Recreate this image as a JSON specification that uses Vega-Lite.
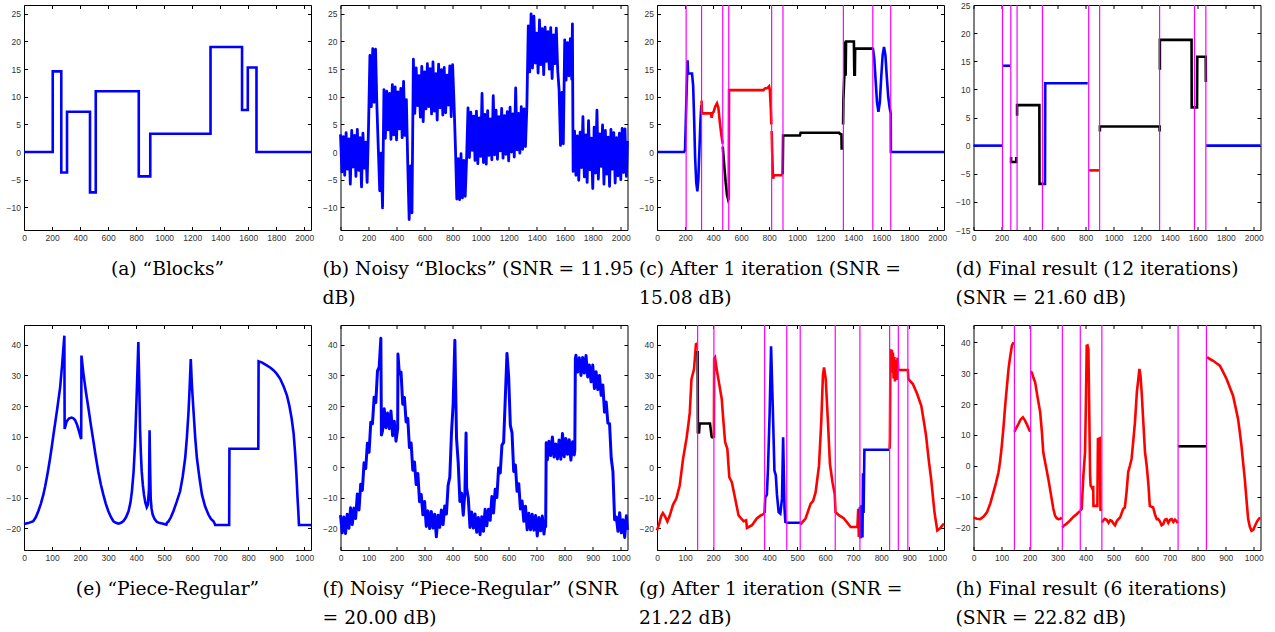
{
 "$schema": "https://vega.github.io/schema/vega-lite/v6.json",
 "padding": {"left": 5, "top": 0, "right": 0, "bottom": 0},
 "bounds": "flush",
 "columns": 4,
 "spacing": {"row": 95, "column": 29.5},
 "datasets": {
  "a": [{"x":0,"y":0},{"x":205,"y":14.6},{"x":266,"y":-3.7},{"x":307,"y":7.3},{"x":471,"y":-7.3},{"x":512,"y":11},{"x":819,"y":-4.4},{"x":901,"y":3.3},{"x":1331,"y":19},{"x":1556,"y":7.6},{"x":1597,"y":15.3},{"x":1659,"y":0},{"x":2048,"y":0}],
  "b": [{"x":0,"y":3.2},{"x":10,"y":-3.6},{"x":20,"y":2.8},{"x":30,"y":-4.2},{"x":40,"y":3.5},{"x":50,"y":-3.1},{"x":60,"y":2.4},{"x":70,"y":-5.8},{"x":80,"y":3.9},{"x":90,"y":-2.7},{"x":100,"y":3.0},{"x":110,"y":-4.4},{"x":120,"y":4.1},{"x":130,"y":-3.3},{"x":140,"y":2.6},{"x":150,"y":-6.3},{"x":160,"y":3.4},{"x":170,"y":-2.9},{"x":180,"y":1.8},{"x":190,"y":-5.5},{"x":200,"y":4.6},
   {"x":210,"y":17.5},{"x":220,"y":8.2},{"x":230,"y":18.7},{"x":240,"y":9.0},{"x":250,"y":18.6},{"x":260,"y":8.1},
   {"x":270,"y":0.5},{"x":280,"y":-7.0},{"x":290,"y":-0.2},{"x":300,"y":-10.1},
   {"x":310,"y":11.3},{"x":320,"y":2.5},{"x":330,"y":11.0},{"x":340,"y":4.0},{"x":350,"y":10.6},{"x":360,"y":2.3},{"x":370,"y":12.2},{"x":380,"y":3.1},{"x":390,"y":11.8},{"x":400,"y":2.2},{"x":410,"y":10.9},{"x":420,"y":4.2},{"x":430,"y":11.5},{"x":440,"y":2.6},{"x":450,"y":12.8},{"x":460,"y":3.0},{"x":470,"y":9.5},
   {"x":480,"y":-2.2},{"x":490,"y":-12.2},{"x":500,"y":-2.5},{"x":510,"y":-11.0},
   {"x":520,"y":16.8},{"x":530,"y":7.0},{"x":540,"y":15.2},{"x":550,"y":8.4},{"x":560,"y":13.8},{"x":570,"y":6.3},{"x":580,"y":15.5},{"x":590,"y":5.5},{"x":600,"y":14.5},{"x":610,"y":7.8},{"x":620,"y":16.0},{"x":630,"y":8.2},{"x":640,"y":15.1},{"x":650,"y":6.9},{"x":660,"y":16.3},{"x":670,"y":7.4},{"x":680,"y":14.2},{"x":690,"y":5.8},{"x":700,"y":15.9},{"x":710,"y":8.0},{"x":720,"y":14.9},{"x":730,"y":6.7},{"x":740,"y":15.3},{"x":750,"y":7.1},{"x":760,"y":13.9},{"x":770,"y":8.5},{"x":780,"y":15.6},{"x":790,"y":6.4},{"x":800,"y":15.8},{"x":810,"y":9.0},
   {"x":820,"y":1.0},{"x":830,"y":-8.5},{"x":840,"y":-1.2},{"x":850,"y":-8.6},{"x":860,"y":-0.3},{"x":870,"y":-8.3},{"x":880,"y":-1.5},{"x":890,"y":-8.0},{"x":900,"y":-1.0},
   {"x":910,"y":8.0},{"x":920,"y":-1.0},{"x":930,"y":7.2},{"x":940,"y":0.3},{"x":950,"y":6.5},{"x":960,"y":-1.5},{"x":970,"y":7.4},{"x":980,"y":-2.1},{"x":990,"y":6.2},{"x":1000,"y":-0.8},{"x":1010,"y":10.6},{"x":1020,"y":-1.9},{"x":1030,"y":6.8},{"x":1040,"y":-2.2},{"x":1050,"y":7.5},{"x":1060,"y":-0.6},{"x":1070,"y":6.0},{"x":1080,"y":-1.4},{"x":1090,"y":10.2},{"x":1100,"y":-0.5},{"x":1110,"y":7.6},{"x":1120,"y":-1.3},{"x":1130,"y":6.4},{"x":1140,"y":0.2},{"x":1150,"y":7.9},{"x":1160,"y":-1.1},{"x":1170,"y":6.6},{"x":1180,"y":-0.4},{"x":1190,"y":7.3},{"x":1200,"y":-1.6},{"x":1210,"y":8.1},{"x":1220,"y":0.0},{"x":1230,"y":6.9},{"x":1240,"y":-0.9},{"x":1250,"y":11.6},{"x":1260,"y":0.4},{"x":1270,"y":7.0},{"x":1280,"y":-0.2},{"x":1290,"y":8.2},{"x":1300,"y":0.5},{"x":1310,"y":7.8},{"x":1320,"y":1.0},{"x":1330,"y":8.3},
   {"x":1340,"y":22.8},{"x":1350,"y":14.5},{"x":1360,"y":25.0},{"x":1370,"y":15.2},{"x":1380,"y":24.6},{"x":1390,"y":16.1},{"x":1400,"y":21.5},{"x":1410,"y":14.3},{"x":1420,"y":23.9},{"x":1430,"y":15.8},{"x":1440,"y":22.3},{"x":1450,"y":14.0},{"x":1460,"y":22.6},{"x":1470,"y":16.4},{"x":1480,"y":21.8},{"x":1490,"y":15.0},{"x":1500,"y":22.5},{"x":1510,"y":13.3},{"x":1520,"y":21.2},{"x":1530,"y":16.0},{"x":1540,"y":22.4},{"x":1550,"y":14.8},
   {"x":1560,"y":11.2},{"x":1570,"y":1.2},{"x":1580,"y":10.8},{"x":1590,"y":1.5},
   {"x":1600,"y":20.3},{"x":1610,"y":13.0},{"x":1620,"y":19.8},{"x":1630,"y":13.8},{"x":1640,"y":20.5},{"x":1650,"y":13.2},{"x":1655,"y":23.2},
   {"x":1660,"y":-3.5},{"x":1670,"y":3.8},{"x":1680,"y":-4.2},{"x":1690,"y":2.9},{"x":1700,"y":-5.1},{"x":1710,"y":3.6},{"x":1720,"y":-2.8},{"x":1730,"y":6.4},{"x":1740,"y":-4.5},{"x":1750,"y":3.1},{"x":1760,"y":-5.5},{"x":1770,"y":5.7},{"x":1780,"y":-3.2},{"x":1790,"y":2.5},{"x":1800,"y":-6.6},{"x":1810,"y":4.5},{"x":1820,"y":-3.8},{"x":1830,"y":7.6},{"x":1840,"y":-4.9},{"x":1850,"y":3.3},{"x":1860,"y":-2.6},{"x":1870,"y":4.9},{"x":1880,"y":-5.8},{"x":1890,"y":3.9},{"x":1900,"y":-4.0},{"x":1910,"y":2.7},{"x":1920,"y":-6.2},{"x":1930,"y":4.1},{"x":1940,"y":-3.1},{"x":1950,"y":3.5},{"x":1960,"y":-5.6},{"x":1970,"y":2.6},{"x":1980,"y":-4.3},{"x":1990,"y":3.4},{"x":2000,"y":-5.0},{"x":2010,"y":4.3},{"x":2020,"y":-3.7},{"x":2030,"y":4.2},{"x":2040,"y":-4.4},{"x":2048,"y":2.0}],
  "c": [{"x":0,"y":0,"c":"b","s":1},{"x":192,"y":0,"c":"b","s":1},{"x":200,"y":0.3,"c":"b","s":1},{"x":205,"y":5,"c":"b","s":1},{"x":210,"y":10,"c":"b","s":1},{"x":215,"y":14,"c":"b","s":1},{"x":218,"y":16.6,"c":"b","s":1},{"x":222,"y":14.2,"c":"b","s":1},{"x":250,"y":14.2,"c":"b","s":1},{"x":258,"y":12,"c":"b","s":1},{"x":265,"y":6,"c":"b","s":1},{"x":272,"y":-1,"c":"b","s":1},{"x":280,"y":-5.5,"c":"b","s":1},{"x":288,"y":-7.1,"c":"b","s":1},{"x":295,"y":-5,"c":"b","s":1},{"x":302,"y":0,"c":"b","s":1},{"x":310,"y":5.5,"c":"b","s":1},{"x":316,"y":8.5,"c":"b","s":1},
   {"x":318,"y":9.3,"c":"r","s":2},{"x":321,"y":7.0,"c":"r","s":2},{"x":385,"y":7.0,"c":"r","s":2},{"x":390,"y":6.2,"c":"r","s":2},{"x":395,"y":7.0,"c":"r","s":2},{"x":405,"y":7.3,"c":"r","s":2},{"x":415,"y":8.2,"c":"r","s":2},{"x":428,"y":8.8,"c":"r","s":2},{"x":438,"y":8.0,"c":"r","s":2},{"x":450,"y":5,"c":"r","s":2},{"x":460,"y":3,"c":"r","s":2},{"x":469,"y":1.5,"c":"r","s":2},
   {"x":469,"y":1.0,"c":"k","s":3},{"x":480,"y":-2.5,"c":"k","s":3},{"x":490,"y":-5.5,"c":"k","s":3},{"x":500,"y":-7.8,"c":"k","s":3},{"x":508,"y":-8.6,"c":"k","s":3},{"x":512,"y":-8.3,"c":"k","s":3},
   {"x":512,"y":-8.6,"c":"r","s":4},{"x":514,"y":11.2,"c":"r","s":4},{"x":760,"y":11.2,"c":"r","s":4},{"x":770,"y":11.5,"c":"r","s":4},{"x":790,"y":11.6,"c":"r","s":4},{"x":800,"y":11.9,"c":"r","s":4},{"x":805,"y":11.3,"c":"r","s":4},{"x":812,"y":8,"c":"r","s":4},{"x":816,"y":5,"c":"r","s":4},
   {"x":818,"y":3.8,"c":"r","s":5},{"x":822,"y":0,"c":"r","s":5},{"x":828,"y":-4.8,"c":"r","s":5},{"x":835,"y":-4.2,"c":"r","s":5},{"x":897,"y":-4.2,"c":"r","s":5},
   {"x":897,"y":-4.0,"c":"k","s":6},{"x":900,"y":3.0,"c":"k","s":6},{"x":1020,"y":3.0,"c":"k","s":6},{"x":1025,"y":3.5,"c":"k","s":6},{"x":1300,"y":3.5,"c":"k","s":6},{"x":1305,"y":3.3,"c":"k","s":6},{"x":1316,"y":3.2,"c":"k","s":6},{"x":1318,"y":0.4,"c":"k","s":6},
   {"x":1328,"y":5.0,"c":"k","s":7},{"x":1330,"y":9.6,"c":"k","s":7},{"x":1334,"y":12,"c":"k","s":7},{"x":1337,"y":14,"c":"k","s":7},{"x":1339,"y":20,"c":"k","s":7},{"x":1341,"y":14.5,"c":"k","s":7},{"x":1344,"y":20,"c":"k","s":7},{"x":1346,"y":13.8,"c":"k","s":7},{"x":1349,"y":20,"c":"k","s":7},{"x":1405,"y":20,"c":"k","s":7},{"x":1408,"y":14,"c":"k","s":7},{"x":1412,"y":14,"c":"k","s":7},{"x":1414,"y":18.7,"c":"k","s":7},{"x":1540,"y":18.7,"c":"k","s":7},
   {"x":1540,"y":18.9,"c":"b","s":8},{"x":1550,"y":17,"c":"b","s":8},{"x":1560,"y":13,"c":"b","s":8},{"x":1570,"y":9,"c":"b","s":8},{"x":1580,"y":7.3,"c":"b","s":8},{"x":1590,"y":9,"c":"b","s":8},{"x":1600,"y":13.5,"c":"b","s":8},{"x":1610,"y":17.5,"c":"b","s":8},{"x":1620,"y":19,"c":"b","s":8},{"x":1630,"y":17.5,"c":"b","s":8},{"x":1640,"y":13.5,"c":"b","s":8},{"x":1650,"y":10,"c":"b","s":8},{"x":1660,"y":8,"c":"b","s":8},{"x":1668,"y":7,"c":"b","s":8},{"x":1669,"y":0,"c":"b","s":8},{"x":2048,"y":0,"c":"b","s":8}],
  "cr": [{"x":208},{"x":318},{"x":469},{"x":512},{"x":818},{"x":899},{"x":1330},{"x":1540},{"x":1668}],
  "d": [{"x":0,"y":0,"c":"b","s":1},{"x":205,"y":0,"c":"b","s":1},
   {"x":210,"y":14.2,"c":"b","s":2},{"x":262,"y":14.2,"c":"b","s":2},
   {"x":268,"y":-2.0,"c":"k","s":3},{"x":268,"y":-2.9,"c":"k","s":3},{"x":305,"y":-2.9,"c":"k","s":3},{"x":305,"y":-2.0,"c":"k","s":3},
   {"x":311,"y":5.3,"c":"k","s":4},{"x":311,"y":7.2,"c":"k","s":4},{"x":470,"y":7.2,"c":"k","s":4},{"x":471,"y":-6.8,"c":"k","s":4},{"x":490,"y":-6.8,"c":"k","s":4},
   {"x":492,"y":-6.8,"c":"b","s":5},{"x":510,"y":-6.8,"c":"b","s":5},{"x":512,"y":11.1,"c":"b","s":5},{"x":815,"y":11.1,"c":"b","s":5},
   {"x":825,"y":-4.4,"c":"r","s":6},{"x":895,"y":-4.4,"c":"r","s":6},
   {"x":902,"y":2.5,"c":"k","s":7},{"x":902,"y":3.4,"c":"k","s":7},{"x":1328,"y":3.4,"c":"k","s":7},{"x":1328,"y":2.5,"c":"k","s":7},
   {"x":1330,"y":13.5,"c":"k","s":8},{"x":1330,"y":18.8,"c":"k","s":8},{"x":1556,"y":18.8,"c":"k","s":8},{"x":1557,"y":6.8,"c":"k","s":8},{"x":1595,"y":6.8,"c":"k","s":8},{"x":1597,"y":15.8,"c":"k","s":8},{"x":1657,"y":15.8,"c":"k","s":8},{"x":1658,"y":11.3,"c":"k","s":8},
   {"x":1660,"y":0,"c":"b","s":9},{"x":2048,"y":0,"c":"b","s":9}],
  "dr": [{"x":207},{"x":266},{"x":311},{"x":492},{"x":822},{"x":900},{"x":1328},{"x":1577},{"x":1658}],
  "e": [{"x":0,"y":-18.6},{"x":15,"y":-18.3},{"x":33,"y":-17.7},{"x":42,"y":-16.4},{"x":51,"y":-14.4},{"x":60,"y":-12},{"x":69,"y":-9.0},{"x":75,"y":-6.5},{"x":81,"y":-3.6},{"x":87,"y":-0.5},{"x":93,"y":2.9},{"x":99,"y":6.6},{"x":105,"y":10.5},{"x":111,"y":14.3},{"x":117,"y":18.1},{"x":123,"y":22.1},{"x":129,"y":26.2},{"x":136,"y":33.5},{"x":144,"y":43.0},{"x":145,"y":12.5},{"x":152,"y":14.9},{"x":160,"y":15.9},{"x":170,"y":16.2},{"x":176,"y":16.0},{"x":182,"y":15.4},{"x":189,"y":14.0},{"x":195,"y":12.1},{"x":204,"y":9.2},{"x":205,"y":36.5},{"x":212,"y":30.6},{"x":221,"y":24.6},{"x":230,"y":19.2},{"x":239,"y":13.6},{"x":248,"y":8.3},{"x":256,"y":3.5},{"x":265,"y":-1.4},{"x":274,"y":-5.6},{"x":283,"y":-9.0},{"x":292,"y":-12},{"x":301,"y":-14.4},{"x":310,"y":-16.3},{"x":319,"y":-17.7},{"x":328,"y":-18.2},{"x":337,"y":-18.5},{"x":346,"y":-18.2},{"x":355,"y":-17.6},{"x":364,"y":-16.4},{"x":373,"y":-14.4},{"x":380,"y":-11.5},{"x":385,"y":-7.9},{"x":391,"y":-1.5},{"x":396,"y":7.3},{"x":402,"y":23.5},{"x":408,"y":40.9},{"x":411,"y":28},{"x":414,"y":12.7},{"x":417,"y":4.5},{"x":420,"y":-1.4},{"x":424,"y":-5.8},{"x":428,"y":-9.0},{"x":433,"y":-11.6},{"x":438,"y":-13.1},{"x":442,"y":-12.3},{"x":446,"y":-7},{"x":448,"y":12.1},{"x":450,"y":0},{"x":452,"y":-10.1},{"x":455,"y":-13.5},{"x":459,"y":-15.5},{"x":466,"y":-17},{"x":474,"y":-17.9},{"x":485,"y":-18.3},{"x":497,"y":-18.5},{"x":508,"y":-18.8},{"x":510,"y":-18.2},{"x":515,"y":-17.8},{"x":524,"y":-16.4},{"x":533,"y":-14.4},{"x":545,"y":-11.3},{"x":557,"y":-7.9},{"x":566,"y":-3.2},{"x":575,"y":2.9},{"x":581,"y":9.5},{"x":587,"y":18.1},{"x":591,"y":26},{"x":595,"y":35.4},{"x":599,"y":27},{"x":605,"y":18.1},{"x":611,"y":9.5},{"x":617,"y":2.9},{"x":626,"y":-3.5},{"x":635,"y":-9.0},{"x":646,"y":-12.8},{"x":658,"y":-15.5},{"x":667,"y":-16.9},{"x":676,"y":-17.7},{"x":680,"y":-18.4},{"x":682,"y":-18.9},{"x":732,"y":-18.9},{"x":733,"y":6.0},{"x":836,"y":6.0},{"x":837,"y":34.6},{"x":850,"y":34.2},{"x":866,"y":33.3},{"x":878,"y":32.6},{"x":890,"y":31.7},{"x":902,"y":30.5},{"x":914,"y":28.9},{"x":926,"y":26.5},{"x":938,"y":23.5},{"x":947,"y":20},{"x":955,"y":15.9},{"x":962,"y":11},{"x":967,"y":5.1},{"x":972,"y":-2.5},{"x":976,"y":-10.1},{"x":979,"y":-15},{"x":981,"y":-18.9},{"x":1024,"y":-18.9}],
  "f": [{"x":0,"y":-15.7},{"x":6,"y":-21.5},{"x":12,"y":-16.3},{"x":18,"y":-21.7},{"x":24,"y":-15.4},{"x":30,"y":-20.0},{"x":36,"y":-13.3},{"x":42,"y":-18.8},{"x":48,"y":-13.4},{"x":54,"y":-16.8},{"x":60,"y":-8.8},{"x":66,"y":-14.0},{"x":72,"y":-5.6},{"x":78,"y":-7.6},{"x":84,"y":1.4},{"x":90,"y":-0.5},{"x":96,"y":7.8},{"x":102,"y":4.9},{"x":108,"y":14.7},{"x":114,"y":14.2},{"x":120,"y":22.9},{"x":126,"y":21.1},{"x":132,"y":31.5},{"x":138,"y":32.7},{"x":144,"y":42.2},{"x":146,"y":10.5},{"x":150,"y":11.9},{"x":156,"y":19.1},{"x":162,"y":12.9},{"x":168,"y":17.7},{"x":174,"y":12.6},{"x":180,"y":18.4},{"x":186,"y":10.3},{"x":192,"y":15.0},{"x":198,"y":8.5},{"x":204,"y":12.6},{"x":205,"y":37.0},{"x":210,"y":30.5},{"x":216,"y":31.1},{"x":222,"y":20.6},{"x":228,"y":22.8},{"x":234,"y":14.8},{"x":240,"y":16.0},{"x":246,"y":6.4},{"x":252,"y":7.9},{"x":258,"y":-1.0},{"x":264,"y":1.7},{"x":270,"y":-5.7},{"x":276,"y":-2.1},{"x":282,"y":-11.3},{"x":288,"y":-8.9},{"x":294,"y":-15.6},{"x":300,"y":-11.2},{"x":306,"y":-19.4},{"x":312,"y":-14.3},{"x":318,"y":-20.1},{"x":324,"y":-14.5},{"x":330,"y":-19.9},{"x":336,"y":-15.4},{"x":342,"y":-22.8},{"x":348,"y":-15.7},{"x":354,"y":-19.7},{"x":360,"y":-14.0},{"x":366,"y":-18.8},{"x":372,"y":-12.7},{"x":378,"y":-15.3},{"x":384,"y":-5.9},{"x":390,"y":-3.2},{"x":396,"y":11.2},{"x":402,"y":20.8},{"x":408,"y":41.5},{"x":414,"y":9.4},{"x":420,"y":1.5},{"x":426,"y":-11.2},{"x":432,"y":-8.5},{"x":438,"y":-15.7},{"x":444,"y":-7.8},{"x":448,"y":11.2},{"x":450,"y":-6.8},{"x":456,"y":-10.2},{"x":462,"y":-19.7},{"x":468,"y":-14.7},{"x":474,"y":-19.9},{"x":480,"y":-15.3},{"x":486,"y":-21.3},{"x":492,"y":-16.5},{"x":498,"y":-22.1},{"x":504,"y":-16.2},{"x":510,"y":-21.0},{"x":516,"y":-13.8},{"x":522,"y":-19.2},{"x":528,"y":-13.8},{"x":534,"y":-17.4},{"x":540,"y":-9.6},{"x":546,"y":-15.0},{"x":552,"y":-7.2},{"x":558,"y":-9.9},{"x":564,"y":-0.3},{"x":570,"y":-1.9},{"x":576,"y":7.2},{"x":582,"y":8.1},{"x":588,"y":22.6},{"x":594,"y":37.2},{"x":600,"y":29.5},{"x":606,"y":13.7},{"x":612,"y":11.2},{"x":618,"y":-1.4},{"x":624,"y":0.7},{"x":630,"y":-7.9},{"x":636,"y":-5.4},{"x":642,"y":-13.7},{"x":648,"y":-11.1},{"x":654,"y":-17.7},{"x":660,"y":-12.8},{"x":666,"y":-20.5},{"x":672,"y":-15.1},{"x":678,"y":-20.5},{"x":684,"y":-15.4},{"x":690,"y":-20.6},{"x":696,"y":-15.8},{"x":702,"y":-22.5},{"x":708,"y":-16.5},{"x":714,"y":-20.8},{"x":720,"y":-16.0},{"x":726,"y":-21.9},{"x":731,"y":-17.5},{"x":732,"y":-19.5},{"x":734,"y":8.0},{"x":738,"y":2.4},{"x":744,"y":8.5},{"x":750,"y":3.8},{"x":756,"y":9.9},{"x":762,"y":3.3},{"x":768,"y":7.6},{"x":774,"y":2.7},{"x":780,"y":8.9},{"x":786,"y":2.6},{"x":792,"y":11.0},{"x":798,"y":3.4},{"x":804,"y":9.4},{"x":810,"y":4.2},{"x":816,"y":9.0},{"x":822,"y":2.3},{"x":828,"y":8.3},{"x":834,"y":4.0},{"x":836,"y":5.5},{"x":838,"y":35.5},{"x":840,"y":36.6},{"x":846,"y":31.1},{"x":852,"y":35.8},{"x":858,"y":30.0},{"x":864,"y":35.9},{"x":870,"y":30.8},{"x":876,"y":36.5},{"x":882,"y":29.5},{"x":888,"y":33.4},{"x":894,"y":27.9},{"x":900,"y":33.4},{"x":906,"y":25.7},{"x":912,"y":31.2},{"x":918,"y":25.4},{"x":924,"y":30.0},{"x":930,"y":23.5},{"x":936,"y":26.9},{"x":942,"y":18.0},{"x":948,"y":21.3},{"x":954,"y":14.4},{"x":960,"y":14.2},{"x":966,"y":2.9},{"x":972,"y":-1.4},{"x":978,"y":-17.2},{"x":984,"y":-16.3},{"x":990,"y":-21.0},{"x":996,"y":-14.9},{"x":1002,"y":-21.5},{"x":1008,"y":-17.2},{"x":1014,"y":-23.0},{"x":1020,"y":-15.9},{"x":1024,"y":-20.5}],
  "g": [{"x":0,"y":-20.7,"c":"r","s":1},{"x":8,"y":-18.5,"c":"r","s":1},{"x":15,"y":-16,"c":"r","s":1},{"x":21,"y":-15,"c":"r","s":1},{"x":28,"y":-16,"c":"r","s":1},{"x":37,"y":-17.8,"c":"r","s":1},{"x":45,"y":-16,"c":"r","s":1},{"x":57,"y":-12.3,"c":"r","s":1},{"x":69,"y":-10.3,"c":"r","s":1},{"x":81,"y":-6.0,"c":"r","s":1},{"x":93,"y":2.7,"c":"r","s":1},{"x":105,"y":9.2,"c":"r","s":1},{"x":112,"y":14,"c":"r","s":1},{"x":117,"y":17.9,"c":"r","s":1},{"x":123,"y":28.8,"c":"r","s":1},{"x":132,"y":32,"c":"r","s":1},{"x":139,"y":40.2,"c":"r","s":1},{"x":144,"y":40.5,"c":"r","s":1},
   {"x":145,"y":38,"c":"k","s":2},{"x":146,"y":11,"c":"k","s":2},{"x":148,"y":12.5,"c":"k","s":2},{"x":150,"y":11,"c":"k","s":2},{"x":152,"y":14.3,"c":"k","s":2},{"x":189,"y":14.3,"c":"k","s":2},{"x":195,"y":10,"c":"k","s":2},{"x":200,"y":9.5,"c":"k","s":2},
   {"x":203,"y":9.5,"c":"r","s":3},{"x":204,"y":35.5,"c":"r","s":3},{"x":207,"y":35.9,"c":"r","s":3},{"x":213,"y":32,"c":"r","s":3},{"x":219,"y":28.8,"c":"r","s":3},{"x":231,"y":22.3,"c":"r","s":3},{"x":237,"y":15,"c":"r","s":3},{"x":243,"y":8.2,"c":"r","s":3},{"x":251,"y":6.0,"c":"r","s":3},{"x":258,"y":-3.3,"c":"r","s":3},{"x":267,"y":-4.9,"c":"r","s":3},{"x":279,"y":-10.3,"c":"r","s":3},{"x":291,"y":-15.8,"c":"r","s":3},{"x":309,"y":-17.7,"c":"r","s":3},{"x":318,"y":-17.4,"c":"r","s":3},{"x":321,"y":-19.9,"c":"r","s":3},{"x":339,"y":-19.0,"c":"r","s":3},{"x":356,"y":-16.8,"c":"r","s":3},{"x":370,"y":-15.8,"c":"r","s":3},{"x":384,"y":-15.2,"c":"r","s":3},
   {"x":384,"y":-15,"c":"b","s":4},{"x":386,"y":-10,"c":"b","s":4},{"x":392,"y":-9,"c":"b","s":4},{"x":396,"y":-0.5,"c":"b","s":4},{"x":402,"y":18,"c":"b","s":4},{"x":407,"y":39.5,"c":"b","s":4},{"x":413,"y":20,"c":"b","s":4},{"x":419,"y":-1.1,"c":"b","s":4},{"x":424,"y":-2.7,"c":"b","s":4},{"x":428,"y":-9,"c":"b","s":4},{"x":434,"y":-14.7,"c":"b","s":4},{"x":440,"y":-15.2,"c":"b","s":4},{"x":446,"y":-10.3,"c":"b","s":4},{"x":450,"y":9.8,"c":"b","s":4},{"x":455,"y":-13.6,"c":"b","s":4},{"x":458,"y":-17.9,"c":"b","s":4},{"x":464,"y":-18.2,"c":"b","s":4},{"x":511,"y":-18.2,"c":"b","s":4},
   {"x":511,"y":-18.8,"c":"r","s":5},{"x":530,"y":-16.8,"c":"r","s":5},{"x":548,"y":-12.0,"c":"r","s":5},{"x":557,"y":-11,"c":"r","s":5},{"x":566,"y":-8.2,"c":"r","s":5},{"x":578,"y":0.5,"c":"r","s":5},{"x":586,"y":14.7,"c":"r","s":5},{"x":592,"y":30,"c":"r","s":5},{"x":596,"y":32.6,"c":"r","s":5},{"x":602,"y":28.8,"c":"r","s":5},{"x":610,"y":14.7,"c":"r","s":5},{"x":617,"y":1.1,"c":"r","s":5},{"x":626,"y":-4.9,"c":"r","s":5},{"x":634,"y":-8.7,"c":"r","s":5},{"x":637,"y":-14.7,"c":"r","s":5},{"x":650,"y":-15.8,"c":"r","s":5},{"x":667,"y":-16.8,"c":"r","s":5},{"x":691,"y":-19.6,"c":"r","s":5},{"x":715,"y":-19.6,"c":"r","s":5},{"x":718,"y":-13.6,"c":"r","s":5},{"x":720,"y":-22.8,"c":"r","s":5},{"x":722,"y":-16,"c":"r","s":5},{"x":724,"y":-19,"c":"r","s":5},
   {"x":724,"y":-13,"c":"b","s":6},{"x":726,"y":-23.3,"c":"b","s":6},{"x":728,"y":-12.5,"c":"b","s":6},{"x":731,"y":-20,"c":"b","s":6},{"x":733,"y":-23,"c":"b","s":6},{"x":735,"y":-2,"c":"b","s":6},{"x":737,"y":-15,"c":"b","s":6},{"x":740,"y":5.7,"c":"b","s":6},{"x":829,"y":5.7,"c":"b","s":6},
   {"x":830,"y":6,"c":"r","s":7},{"x":831,"y":9,"c":"r","s":7},{"x":833,"y":38.2,"c":"r","s":7},{"x":838,"y":38,"c":"r","s":7},{"x":840,"y":31,"c":"r","s":7},{"x":842,"y":37.5,"c":"r","s":7},{"x":844,"y":29,"c":"r","s":7},{"x":847,"y":36,"c":"r","s":7},{"x":849,"y":28,"c":"r","s":7},{"x":852,"y":35,"c":"r","s":7},{"x":855,"y":28.5,"c":"r","s":7},{"x":858,"y":35.8,"c":"r","s":7},{"x":861,"y":31.8,"c":"r","s":7},{"x":895,"y":31.8,"c":"r","s":7},{"x":897,"y":28.8,"c":"r","s":7},{"x":913,"y":27.2,"c":"r","s":7},{"x":928,"y":24,"c":"r","s":7},{"x":943,"y":20.1,"c":"r","s":7},{"x":952,"y":15,"c":"r","s":7},{"x":960,"y":10.3,"c":"r","s":7},{"x":970,"y":2,"c":"r","s":7},{"x":978,"y":-3.8,"c":"r","s":7},{"x":990,"y":-14.7,"c":"r","s":7},{"x":1000,"y":-20.7,"c":"r","s":7},{"x":1010,"y":-20,"c":"r","s":7},{"x":1020,"y":-18.8,"c":"r","s":7},{"x":1024,"y":-18.5,"c":"r","s":7}],
  "gr": [{"x":145},{"x":203},{"x":384},{"x":463},{"x":511},{"x":636},{"x":724},{"x":830},{"x":861},{"x":895}],
  "h": [{"x":0,"y":-16.8,"c":"r","s":1},{"x":12,"y":-17.2,"c":"r","s":1},{"x":24,"y":-17.3,"c":"r","s":1},{"x":36,"y":-16.5,"c":"r","s":1},{"x":48,"y":-15.1,"c":"r","s":1},{"x":60,"y":-12.2,"c":"r","s":1},{"x":71,"y":-8.6,"c":"r","s":1},{"x":80,"y":-5.6,"c":"r","s":1},{"x":89,"y":-2.2,"c":"r","s":1},{"x":95,"y":1.5,"c":"r","s":1},{"x":101,"y":6.5,"c":"r","s":1},{"x":107,"y":12.5,"c":"r","s":1},{"x":113,"y":19.5,"c":"r","s":1},{"x":119,"y":25.5,"c":"r","s":1},{"x":125,"y":31.4,"c":"r","s":1},{"x":131,"y":35.5,"c":"r","s":1},{"x":137,"y":38.9,"c":"r","s":1},{"x":143,"y":40,"c":"r","s":1},
   {"x":146,"y":11,"c":"r","s":2},{"x":153,"y":12.3,"c":"r","s":2},{"x":160,"y":13.5,"c":"r","s":2},{"x":168,"y":15,"c":"r","s":2},{"x":176,"y":15.7,"c":"r","s":2},{"x":183,"y":14.8,"c":"r","s":2},{"x":190,"y":13.5,"c":"r","s":2},{"x":196,"y":12.2,"c":"r","s":2},{"x":202,"y":11,"c":"r","s":2},
   {"x":204,"y":30.5,"c":"r","s":3},{"x":208,"y":30.2,"c":"r","s":3},{"x":214,"y":28.5,"c":"r","s":3},{"x":220,"y":27,"c":"r","s":3},{"x":229,"y":22,"c":"r","s":3},{"x":238,"y":17.3,"c":"r","s":3},{"x":244,"y":11,"c":"r","s":3},{"x":249,"y":4.3,"c":"r","s":3},{"x":258,"y":0,"c":"r","s":3},{"x":267,"y":-4.3,"c":"r","s":3},{"x":273,"y":-7.5,"c":"r","s":3},{"x":279,"y":-10.8,"c":"r","s":3},{"x":285,"y":-14,"c":"r","s":3},{"x":291,"y":-16.2,"c":"r","s":3},{"x":297,"y":-17,"c":"r","s":3},{"x":303,"y":-17.3,"c":"r","s":3},{"x":310,"y":-17.2,"c":"r","s":3},{"x":315,"y":-16.8,"c":"r","s":3},
   {"x":317,"y":-20,"c":"r","s":4},{"x":321,"y":-19.5,"c":"r","s":4},{"x":332,"y":-18.8,"c":"r","s":4},{"x":344,"y":-17.8,"c":"r","s":4},{"x":356,"y":-16.6,"c":"r","s":4},{"x":368,"y":-15.7,"c":"r","s":4},{"x":380,"y":-14.6,"c":"r","s":4},
   {"x":381,"y":-14.5,"c":"r","s":5},{"x":386,"y":-14,"c":"r","s":5},{"x":392,"y":-3.2,"c":"r","s":5},{"x":398,"y":4.3,"c":"r","s":5},{"x":401,"y":20,"c":"r","s":5},{"x":404,"y":38.9,"c":"r","s":5},{"x":407,"y":39,"c":"r","s":5},{"x":410,"y":37.8,"c":"r","s":5},{"x":413,"y":17.3,"c":"r","s":5},{"x":416,"y":-3,"c":"r","s":5},{"x":418,"y":-6.5,"c":"r","s":5},{"x":422,"y":-7,"c":"r","s":5},{"x":425,"y":-7.6,"c":"r","s":5},{"x":427,"y":-6.5,"c":"r","s":5},{"x":428,"y":-13,"c":"r","s":5},{"x":442,"y":-13,"c":"r","s":5},{"x":444,"y":8.6,"c":"r","s":5},{"x":451,"y":8.9,"c":"r","s":5},{"x":453,"y":-14.6,"c":"r","s":5},{"x":456,"y":-14,"c":"r","s":5},
   {"x":458,"y":-18.4,"c":"r","s":6},{"x":462,"y":-17.8,"c":"r","s":6},{"x":468,"y":-17.2,"c":"r","s":6},{"x":475,"y":-17.5,"c":"r","s":6},{"x":482,"y":-18.5,"c":"r","s":6},{"x":488,"y":-17.6,"c":"r","s":6},{"x":493,"y":-17.8,"c":"r","s":6},{"x":500,"y":-18.8,"c":"r","s":6},{"x":505,"y":-19.3,"c":"r","s":6},{"x":512,"y":-17.8,"c":"r","s":6},{"x":518,"y":-17.2,"c":"r","s":6},{"x":523,"y":-16.8,"c":"r","s":6},{"x":528,"y":-15.5,"c":"r","s":6},{"x":534,"y":-14,"c":"r","s":6},{"x":540,"y":-13.5,"c":"r","s":6},{"x":546,"y":-8.6,"c":"r","s":6},{"x":552,"y":-2,"c":"r","s":6},{"x":558,"y":0,"c":"r","s":6},{"x":564,"y":2.2,"c":"r","s":6},{"x":570,"y":8,"c":"r","s":6},{"x":576,"y":14,"c":"r","s":6},{"x":583,"y":24,"c":"r","s":6},{"x":588,"y":28,"c":"r","s":6},{"x":592,"y":31.4,"c":"r","s":6},{"x":596,"y":29,"c":"r","s":6},{"x":600,"y":23.8,"c":"r","s":6},{"x":606,"y":14,"c":"r","s":6},{"x":612,"y":4.3,"c":"r","s":6},{"x":618,"y":0,"c":"r","s":6},{"x":624,"y":-6,"c":"r","s":6},{"x":629,"y":-13,"c":"r","s":6},{"x":635,"y":-13.3,"c":"r","s":6},{"x":641,"y":-13.5,"c":"r","s":6},{"x":648,"y":-16,"c":"r","s":6},{"x":654,"y":-17.3,"c":"r","s":6},{"x":659,"y":-17.3,"c":"r","s":6},{"x":665,"y":-18,"c":"r","s":6},{"x":671,"y":-19.3,"c":"r","s":6},{"x":677,"y":-18.9,"c":"r","s":6},{"x":683,"y":-17.5,"c":"r","s":6},{"x":689,"y":-17.3,"c":"r","s":6},{"x":695,"y":-18.5,"c":"r","s":6},{"x":701,"y":-17.5,"c":"r","s":6},{"x":707,"y":-17.3,"c":"r","s":6},{"x":713,"y":-18.2,"c":"r","s":6},{"x":719,"y":-17.5,"c":"r","s":6},{"x":725,"y":-18,"c":"r","s":6},{"x":729,"y":-18.6,"c":"r","s":6},
   {"x":730,"y":6.3,"c":"k","s":7},{"x":831,"y":6.3,"c":"k","s":7},
   {"x":833,"y":35.2,"c":"r","s":8},{"x":845,"y":34.5,"c":"r","s":8},{"x":855,"y":34,"c":"r","s":8},{"x":867,"y":33.2,"c":"r","s":8},{"x":879,"y":32.4,"c":"r","s":8},{"x":890,"y":30.5,"c":"r","s":8},{"x":903,"y":28.1,"c":"r","s":8},{"x":914,"y":25.5,"c":"r","s":8},{"x":926,"y":22.7,"c":"r","s":8},{"x":935,"y":19,"c":"r","s":8},{"x":944,"y":15.1,"c":"r","s":8},{"x":950,"y":11,"c":"r","s":8},{"x":956,"y":6.5,"c":"r","s":8},{"x":962,"y":1,"c":"r","s":8},{"x":968,"y":-4.3,"c":"r","s":8},{"x":974,"y":-11,"c":"r","s":8},{"x":980,"y":-17.3,"c":"r","s":8},{"x":986,"y":-19.8,"c":"r","s":8},{"x":992,"y":-21.1,"c":"r","s":8},{"x":998,"y":-20.8,"c":"r","s":8},{"x":1004,"y":-19.5,"c":"r","s":8},{"x":1012,"y":-18,"c":"r","s":8},{"x":1019,"y":-17.1,"c":"r","s":8},{"x":1024,"y":-16.9,"c":"r","s":8}],
  "hr": [{"x":146},{"x":204},{"x":317},{"x":381},{"x":458},{"x":730},{"x":831}]
 },
 "concat": [
  {"width":287,"height":225,"title":{"text":"(a) “Blocks”","anchor":"middle"},
   "layer":[
    {"data":{"name":"a"},"mark":{"type":"line","color":"#0000ff","strokeWidth":2.6,"interpolate":"step-after"},
     "encoding":{"x":{"field":"x","type":"quantitative","title":null,"scale":{"domain":[0,2048],"nice":false},"axis":{"orient":"bottom","format":"d","values":[0,200,400,600,800,1000,1200,1400,1600,1800,2000]}},
                 "y":{"field":"y","type":"quantitative","title":null,"scale":{"domain":[-14.1,26.6],"nice":false,"zero":false},"axis":{"orient":"left","values":[-10,-5,0,5,10,15,20,25]}}}},
    {"data":{"values":[]},"mark":"point",
     "encoding":{"x":{"field":"x","type":"quantitative","title":null,"scale":{"domain":[0,2048],"nice":false},"axis":{"orient":"top","labels":false,"values":[0,200,400,600,800,1000,1200,1400,1600,1800,2000]}},
                 "y":{"field":"y","type":"quantitative","title":null,"scale":{"domain":[-14.1,26.6],"nice":false,"zero":false},"axis":{"orient":"right","labels":false,"values":[-10,-5,0,5,10,15,20,25]}}}}
   ]},
  {"width":287,"height":225,"title":{"text":["(b) Noisy “Blocks” (SNR = 11.95","dB)"],"anchor":"start"},
   "layer":[
    {"data":{"name":"b"},"mark":{"type":"line","color":"#0000ff","strokeWidth":2.8,"strokeJoin":"round"},
     "encoding":{"x":{"field":"x","type":"quantitative","title":null,"scale":{"domain":[0,2048],"nice":false},"axis":{"orient":"bottom","format":"d","values":[0,200,400,600,800,1000,1200,1400,1600,1800,2000]}},
                 "y":{"field":"y","type":"quantitative","title":null,"scale":{"domain":[-14.1,26.6],"nice":false,"zero":false},"axis":{"orient":"left","values":[-10,-5,0,5,10,15,20,25]}}}},
    {"data":{"values":[]},"mark":"point",
     "encoding":{"x":{"field":"x","type":"quantitative","title":null,"scale":{"domain":[0,2048],"nice":false},"axis":{"orient":"top","labels":false,"values":[0,200,400,600,800,1000,1200,1400,1600,1800,2000]}},
                 "y":{"field":"y","type":"quantitative","title":null,"scale":{"domain":[-14.1,26.6],"nice":false,"zero":false},"axis":{"orient":"right","labels":false,"values":[-10,-5,0,5,10,15,20,25]}}}}
   ]},
  {"width":287,"height":225,"title":{"text":["(c) After 1 iteration (SNR =","15.08 dB)"],"anchor":"start"},
   "layer":[
    {"data":{"name":"c"},"mark":{"type":"line","strokeWidth":2.6},
     "encoding":{"x":{"field":"x","type":"quantitative","title":null,"scale":{"domain":[0,2048],"nice":false},"axis":{"orient":"bottom","format":"d","values":[0,200,400,600,800,1000,1200,1400,1600,1800,2000]}},
                 "y":{"field":"y","type":"quantitative","title":null,"scale":{"domain":[-14.1,26.6],"nice":false,"zero":false},"axis":{"orient":"left","values":[-10,-5,0,5,10,15,20,25]}},
                 "color":{"field":"c","type":"nominal","scale":{"domain":["b","r","k"],"range":["#0000ff","#ff0000","#000000"]},"legend":null},
                 "detail":{"field":"s","type":"nominal"}}},
    {"data":{"name":"cr"},"mark":{"type":"rule","color":"#ff00ff","strokeWidth":1.2},
     "encoding":{"x":{"field":"x","type":"quantitative","title":null,"scale":{"domain":[0,2048],"nice":false},"axis":null}}},
    {"data":{"values":[]},"mark":"point",
     "encoding":{"x":{"field":"x","type":"quantitative","title":null,"scale":{"domain":[0,2048],"nice":false},"axis":{"orient":"top","labels":false,"values":[0,200,400,600,800,1000,1200,1400,1600,1800,2000]}},
                 "y":{"field":"y","type":"quantitative","title":null,"scale":{"domain":[-14.1,26.6],"nice":false,"zero":false},"axis":{"orient":"right","labels":false,"values":[-10,-5,0,5,10,15,20,25]}}}}
   ]},
  {"width":287,"height":225,"title":{"text":["(d) Final result (12 iterations)","(SNR = 21.60 dB)"],"anchor":"start"},
   "layer":[
    {"data":{"name":"d"},"mark":{"type":"line","strokeWidth":2.6},
     "encoding":{"x":{"field":"x","type":"quantitative","title":null,"scale":{"domain":[0,2048],"nice":false},"axis":{"orient":"bottom","format":"d","values":[0,200,400,600,800,1000,1200,1400,1600,1800,2000]}},
                 "y":{"field":"y","type":"quantitative","title":null,"scale":{"domain":[-15,25],"nice":false,"zero":false},"axis":{"orient":"left","values":[-15,-10,-5,0,5,10,15,20,25]}},
                 "color":{"field":"c","type":"nominal","scale":{"domain":["b","r","k"],"range":["#0000ff","#ff0000","#000000"]},"legend":null},
                 "detail":{"field":"s","type":"nominal"}}},
    {"data":{"name":"dr"},"mark":{"type":"rule","color":"#ff00ff","strokeWidth":1.2},
     "encoding":{"x":{"field":"x","type":"quantitative","title":null,"scale":{"domain":[0,2048],"nice":false},"axis":null}}},
    {"data":{"values":[]},"mark":"point",
     "encoding":{"x":{"field":"x","type":"quantitative","title":null,"scale":{"domain":[0,2048],"nice":false},"axis":{"orient":"top","labels":false,"values":[0,200,400,600,800,1000,1200,1400,1600,1800,2000]}},
                 "y":{"field":"y","type":"quantitative","title":null,"scale":{"domain":[-15,25],"nice":false,"zero":false},"axis":{"orient":"right","labels":false,"values":[-15,-10,-5,0,5,10,15,20,25]}}}}
   ]},
  {"width":287,"height":225,"title":{"text":"(e) “Piece-Regular”","anchor":"middle"},
   "layer":[
    {"data":{"name":"e"},"mark":{"type":"line","color":"#0000ff","strokeWidth":2.6},
     "encoding":{"x":{"field":"x","type":"quantitative","title":null,"scale":{"domain":[0,1024],"nice":false},"axis":{"orient":"bottom","format":"d","values":[0,100,200,300,400,500,600,700,800,900,1000]}},
                 "y":{"field":"y","type":"quantitative","title":null,"scale":{"domain":[-27.1,46.5],"nice":false,"zero":false},"axis":{"orient":"left","values":[-20,-10,0,10,20,30,40]}}}},
    {"data":{"values":[]},"mark":"point",
     "encoding":{"x":{"field":"x","type":"quantitative","title":null,"scale":{"domain":[0,1024],"nice":false},"axis":{"orient":"top","labels":false,"values":[0,100,200,300,400,500,600,700,800,900,1000]}},
                 "y":{"field":"y","type":"quantitative","title":null,"scale":{"domain":[-27.1,46.5],"nice":false,"zero":false},"axis":{"orient":"right","labels":false,"values":[-20,-10,0,10,20,30,40]}}}}
   ]},
  {"width":287,"height":225,"title":{"text":["(f) Noisy “Piece-Regular” (SNR","= 20.00 dB)"],"anchor":"start"},
   "layer":[
    {"data":{"name":"f"},"mark":{"type":"line","color":"#0000ff","strokeWidth":3,"strokeJoin":"round"},
     "encoding":{"x":{"field":"x","type":"quantitative","title":null,"scale":{"domain":[0,1024],"nice":false},"axis":{"orient":"bottom","format":"d","values":[0,100,200,300,400,500,600,700,800,900,1000]}},
                 "y":{"field":"y","type":"quantitative","title":null,"scale":{"domain":[-27.1,46.5],"nice":false,"zero":false},"axis":{"orient":"left","values":[-20,-10,0,10,20,30,40]}}}},
    {"data":{"values":[]},"mark":"point",
     "encoding":{"x":{"field":"x","type":"quantitative","title":null,"scale":{"domain":[0,1024],"nice":false},"axis":{"orient":"top","labels":false,"values":[0,100,200,300,400,500,600,700,800,900,1000]}},
                 "y":{"field":"y","type":"quantitative","title":null,"scale":{"domain":[-27.1,46.5],"nice":false,"zero":false},"axis":{"orient":"right","labels":false,"values":[-20,-10,0,10,20,30,40]}}}}
   ]},
  {"width":287,"height":225,"title":{"text":["(g) After 1 iteration (SNR =","21.22 dB)"],"anchor":"start"},
   "layer":[
    {"data":{"name":"g"},"mark":{"type":"line","strokeWidth":2.6},
     "encoding":{"x":{"field":"x","type":"quantitative","title":null,"scale":{"domain":[0,1024],"nice":false},"axis":{"orient":"bottom","format":"d","values":[0,100,200,300,400,500,600,700,800,900,1000]}},
                 "y":{"field":"y","type":"quantitative","title":null,"scale":{"domain":[-27.1,46.5],"nice":false,"zero":false},"axis":{"orient":"left","values":[-20,-10,0,10,20,30,40]}},
                 "color":{"field":"c","type":"nominal","scale":{"domain":["b","r","k"],"range":["#0000ff","#ff0000","#000000"]},"legend":null},
                 "detail":{"field":"s","type":"nominal"}}},
    {"data":{"name":"gr"},"mark":{"type":"rule","color":"#ff00ff","strokeWidth":1.2},
     "encoding":{"x":{"field":"x","type":"quantitative","title":null,"scale":{"domain":[0,1024],"nice":false},"axis":null}}},
    {"data":{"values":[]},"mark":"point",
     "encoding":{"x":{"field":"x","type":"quantitative","title":null,"scale":{"domain":[0,1024],"nice":false},"axis":{"orient":"top","labels":false,"values":[0,100,200,300,400,500,600,700,800,900,1000]}},
                 "y":{"field":"y","type":"quantitative","title":null,"scale":{"domain":[-27.1,46.5],"nice":false,"zero":false},"axis":{"orient":"right","labels":false,"values":[-20,-10,0,10,20,30,40]}}}}
   ]},
  {"width":287,"height":225,"title":{"text":["(h) Final result (6 iterations)","(SNR = 22.82 dB)"],"anchor":"start"},
   "layer":[
    {"data":{"name":"h"},"mark":{"type":"line","strokeWidth":2.6},
     "encoding":{"x":{"field":"x","type":"quantitative","title":null,"scale":{"domain":[0,1024],"nice":false},"axis":{"orient":"bottom","format":"d","values":[0,100,200,300,400,500,600,700,800,900,1000]}},
                 "y":{"field":"y","type":"quantitative","title":null,"scale":{"domain":[-27.3,45.6],"nice":false,"zero":false},"axis":{"orient":"left","values":[-20,-10,0,10,20,30,40]}},
                 "color":{"field":"c","type":"nominal","scale":{"domain":["b","r","k"],"range":["#0000ff","#ff0000","#000000"]},"legend":null},
                 "detail":{"field":"s","type":"nominal"}}},
    {"data":{"name":"hr"},"mark":{"type":"rule","color":"#ff00ff","strokeWidth":1.2},
     "encoding":{"x":{"field":"x","type":"quantitative","title":null,"scale":{"domain":[0,1024],"nice":false},"axis":null}}},
    {"data":{"values":[]},"mark":"point",
     "encoding":{"x":{"field":"x","type":"quantitative","title":null,"scale":{"domain":[0,1024],"nice":false},"axis":{"orient":"top","labels":false,"values":[0,100,200,300,400,500,600,700,800,900,1000]}},
                 "y":{"field":"y","type":"quantitative","title":null,"scale":{"domain":[-27.3,45.6],"nice":false,"zero":false},"axis":{"orient":"right","labels":false,"values":[-20,-10,0,10,20,30,40]}}}}
   ]}
 ],
 "config": {
  "view": {"stroke": "#000000", "strokeWidth": 1},
  "axis": {"grid": false, "domain": false, "labelFont": "Liberation Sans", "labelFontSize": 8.5, "labelColor": "#333333", "tickColor": "#000000", "tickSize": -3.5, "labelPadding": 7, "labelFlush": false, "labelOverlap": false},
  "title": {"font": "DejaVu Serif", "fontSize": 18.7, "fontWeight": "normal", "color": "#000000", "orient": "bottom", "lineHeight": 28.5, "offset": 18}
 }
}
